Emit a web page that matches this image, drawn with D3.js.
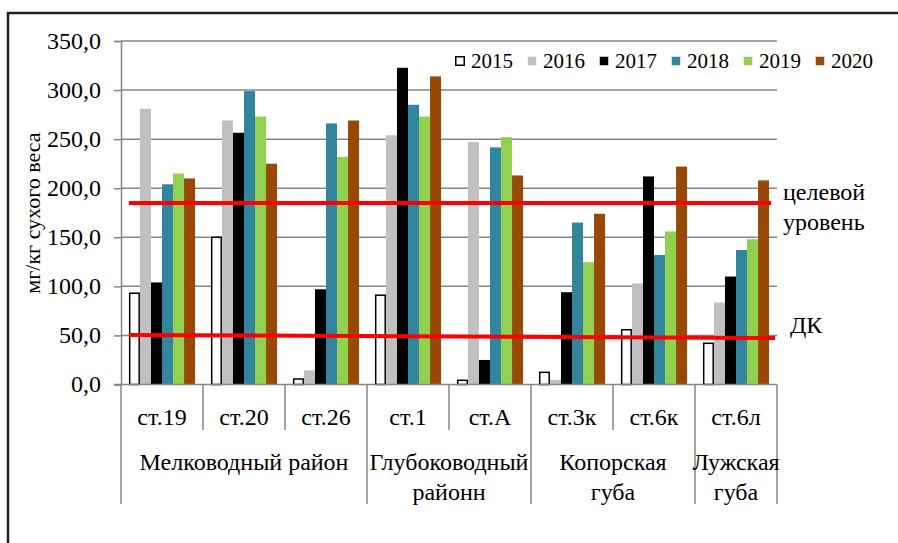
<!DOCTYPE html>
<html>
<head>
<meta charset="utf-8">
<script src="https://d3js.org/d3.v7.min.js"></script>
<style>
  body { margin: 0; background: #fff; }
  svg text, svg tspan { font-family: "Liberation Serif"; }
</style>
</head>
<body>
<svg id="chart" width="898" height="543"></svg>
<script>
// --- data ---
var stations = ["ст.19", "ст.20", "ст.26", "ст.1", "ст.A", "ст.3к", "ст.6к", "ст.6л"];
var years = ["2015", "2016", "2017", "2018", "2019", "2020"];
var v2015 = [93, 150, 5.6, 91, 4.3, 12.4, 55.8, 42];
var v2016 = [281, 269, 14.4, 254, 247, 4.6, 103, 83.6];
var v2017 = [104, 256.5, 97, 322.7, 25, 94, 212, 110];
var v2018 = [204, 299, 266, 285, 241.6, 165, 132, 137];
var v2019 = [215, 273, 232, 273, 252, 124.6, 156, 148];
var v2020 = [210, 225, 269, 314, 213, 174, 222, 208];
var groupNames = [["Мелководный район"], ["Глубоководный", "районн"], ["Копорская", "губа"], ["Лужская", "губа"]];
var groupSizes = [3, 2, 2, 1];
var yTicks = [0, 50, 100, 150, 200, 250, 300, 350];
var targetLevel = [185, 185];   // целевой уровень (left, right)
var dkLevel = [50.4, 47.4];     // ДК (left, right)
var yTitle = "мг/кг сухого веса";

var colors = {"2015": "#ffffff", "2016": "#c0c0c0", "2017": "#000000",
              "2018": "#31859c", "2019": "#92d050", "2020": "#984807"};
var seriesVals = [v2015, v2016, v2017, v2018, v2019, v2020];

var W = 898, H = 543;
var svg = d3.select("#chart");

// every text goes through here so the serif face is set the same way each time
function addText(parent, size) {
  return parent.append("text")
    .style("font-family", "'Liberation Serif'")
    .attr("font-size", size)
    .attr("fill", "#000");
}

var x = d3.scaleBand().domain(stations).range([121, 777]).padding(0);
var xin = d3.scaleBand().domain(years).range([0, x.bandwidth()])
    .paddingInner(0).paddingOuter(0.72);
var y = d3.scaleLinear().domain([0, 350]).range([384.5, 41]);

// outer frame (only top and left visible)
svg.append("path")
  .attr("d", "M8," + H + "V13H" + W)
  .attr("fill", "none").attr("stroke", "#222").attr("stroke-width", 2.5);

// gridlines
svg.append("g").selectAll("line").data(yTicks.slice(1)).enter().append("line")
  .attr("x1", 121).attr("x2", 777)
  .attr("y1", function(d){ return y(d); }).attr("y2", function(d){ return y(d); })
  .attr("stroke", "#878787").attr("stroke-width", 1.5);

// y axis: ticks from d3 axis, labels as own texts
var yAxis = d3.axisLeft(y).tickValues(yTicks).tickSize(7).tickFormat("");
var gy = svg.append("g").attr("transform", "translate(121,0)").call(yAxis);
gy.select(".domain").attr("stroke", "#878787").attr("stroke-width", 1.5);
gy.selectAll(".tick line").attr("stroke", "#878787").attr("stroke-width", 1.5);
gy.selectAll(".tick text").remove();
yTicks.forEach(function(v){
  addText(svg, 24).attr("x", 101).attr("y", y(v)).attr("dy", "0.32em")
    .attr("text-anchor", "end").text(v.toFixed(1).replace(".", ","));
});

// y title
addText(svg, 22)
  .attr("transform", "translate(40,213) rotate(-90)")
  .attr("text-anchor", "middle")
  .text(yTitle);

// bars
var barData = [];
stations.forEach(function(s, i){
  years.forEach(function(yr, j){
    barData.push({station: s, year: yr, value: seriesVals[j][i]});
  });
});
svg.append("g").selectAll("rect").data(barData).enter().append("rect")
  .attr("x", function(d){ return x(d.station) + xin(d.year) + (d.year === "2015" ? 0.75 : 0); })
  .attr("y", function(d){ return y(d.value); })
  .attr("width", function(d){ return xin.bandwidth() - (d.year === "2015" ? 1.5 : 0); })
  .attr("height", function(d){ return y(0) - y(d.value); })
  .attr("fill", function(d){ return colors[d.year]; })
  .attr("stroke", function(d){ return d.year === "2015" ? "#000" : "none"; })
  .attr("stroke-width", 1.5);

// x axis line
svg.append("line").attr("x1", 114).attr("x2", 777).attr("y1", y(0)).attr("y2", y(0))
  .attr("stroke", "#878787").attr("stroke-width", 1.5);

// station dividers
var xBounds = stations.map(function(s){ return x(s); }).concat([x.range()[1]]);
var groupStarts = [0];
groupSizes.forEach(function(n, i){ groupStarts.push(groupStarts[i] + n); });
svg.append("g").selectAll("line").data(xBounds).enter().append("line")
  .attr("x1", function(d){ return d; }).attr("x2", function(d){ return d; })
  .attr("y1", y(0))
  .attr("y2", function(d, i){ return groupStarts.indexOf(i) >= 0 ? 504 : 430; })
  .attr("stroke", "#878787").attr("stroke-width", 1.5);

// station labels
stations.forEach(function(s){
  addText(svg, 24).attr("x", x(s) + x.bandwidth() / 2).attr("y", 425)
    .attr("text-anchor", "middle").text(s);
});

// group labels, one text per line
groupNames.forEach(function(lines, gi){
  var x0 = xBounds[groupStarts[gi]], x1 = xBounds[groupStarts[gi + 1]];
  lines.forEach(function(line, li){
    addText(svg, 24).attr("x", (x0 + x1) / 2).attr("y", 470 + li * 30)
      .attr("text-anchor", "middle").text(line);
  });
});

// reference lines
var lineX0 = x(stations[0]) + xin(years[0]);
var lineX1 = x(stations[stations.length - 1]) + xin(years[years.length - 1]) + xin.bandwidth();
svg.append("line")
  .attr("x1", lineX0).attr("x2", lineX1 + 2)
  .attr("y1", y(targetLevel[0])).attr("y2", y(targetLevel[1]))
  .attr("stroke", "#ff0000").attr("stroke-width", 4);
svg.append("line")
  .attr("x1", lineX0).attr("x2", lineX1 + 6)
  .attr("y1", y(dkLevel[0])).attr("y2", y(dkLevel[1]))
  .attr("stroke", "#ff0000").attr("stroke-width", 4);

addText(svg, 24).attr("x", 783).attr("y", 200).text("целевой");
addText(svg, 24).attr("x", 783).attr("y", 230).text("уровень");
addText(svg, 24).attr("x", 790).attr("y", 333).text("ДК");

// legend
var lx = 455;
years.forEach(function(yr){
  svg.append("rect").attr("x", lx + 0.75).attr("y", 56.75).attr("width", 8.5).attr("height", 8.5)
    .attr("fill", colors[yr])
    .attr("stroke", yr === "2015" ? "#000" : "none").attr("stroke-width", 1.5);
  var t = addText(svg, 21).attr("x", lx + 16).attr("y", 67.5).text(yr);
  lx += 16 + t.node().getComputedTextLength() + 14;
});
</script>
</body>
</html>
